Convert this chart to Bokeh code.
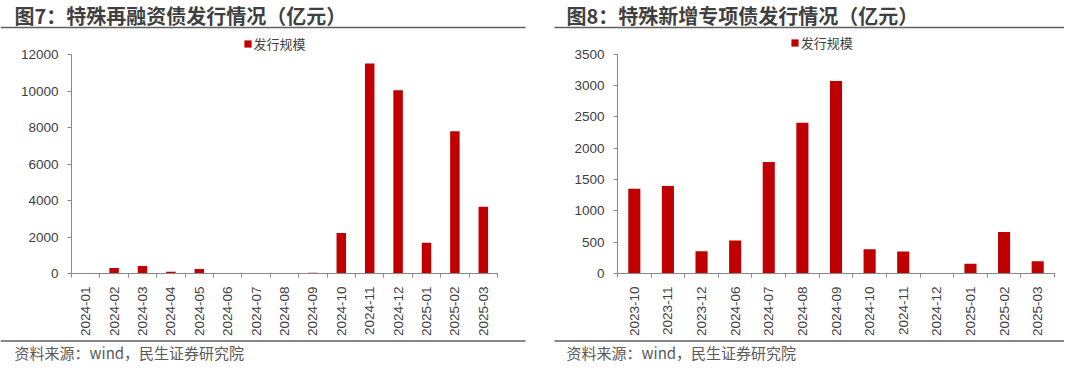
import math
import numpy as np
from bokeh.plotting import figure
from bokeh.models import (Range1d, LinearAxis, FixedTicker, SingleIntervalTicker,
                          NumeralTickFormatter, Legend, LegendItem, ColumnDataSource)
from bokeh.core.properties import value
from bokeh.layouts import row, column
from bokeh.embed import file_html
from bokeh.resources import INLINE

# ---------------- data ----------------
title7 = "图7：特殊再融资债发行情况（亿元）"
months7 = ["2024-01", "2024-02", "2024-03", "2024-04", "2024-05", "2024-06", "2024-07",
           "2024-08", "2024-09", "2024-10", "2024-11", "2024-12", "2025-01", "2025-02", "2025-03"]
issue7 = [0, 300, 410, 90, 250, 0, 0, 0, 40, 2220, 11520, 10060, 1690, 7800, 3660]

title8 = "图8：特殊新增专项债发行情况（亿元）"
months8 = ["2023-10", "2023-11", "2023-12", "2024-06", "2024-07", "2024-08", "2024-09",
           "2024-10", "2024-11", "2024-12", "2025-01", "2025-02", "2025-03"]
issue8 = [1350, 1395, 355, 525, 1780, 2405, 3070, 385, 350, 0, 155, 660, 195]

series_name = "发行规模"
source_text = "资料来源：wind，民生证券研究院"

BAR = "#C00000"
AXIS = "#898989"
TXT = "#404040"
RULE = "#5F5F5F"
CJK = "Noto Sans CJK SC"
NUM = "Liberation Sans"
HEAD_H = 30
FOOT_H = 23
CHART_H = 362 - HEAD_H - FOOT_H   # chart canvas: page y 30 .. 339


def blank(width, height):
    f = figure(width=width, height=height, x_range=Range1d(0, width),
               y_range=Range1d(height, 0), x_axis_type=None, y_axis_type=None,
               output_backend="svg", toolbar_location=None, min_border=0,
               outline_line_color=None, title=None, frame_align=False)
    f.grid.visible = False
    return f


def panel(title, cats, vals, ymax, yint, width, L, frame_w, ytop_px, frame_bottom,
          bar_w, title_x, rule_x0, rule_x1, leg_x, src_x):
    n = len(cats)
    # ---- header: title + rule
    h = blank(width, HEAD_H)
    h.text(x=[title_x], y=[14.5], text=[title], text_font=value(CJK),
           text_font_style="bold", text_font_size="20px", text_color="#3F3F3F",
           text_baseline="middle", text_align="left")
    h.segment(x0=[rule_x0], y0=[27], x1=[rule_x1], y1=[27], line_color=RULE,
              line_width=1.5)

    # ---- chart: frame starts right under the header; the axis is bounded to 0..ymax
    frame_h = frame_bottom - HEAD_H
    y_end = ymax * frame_h / (frame_bottom - ytop_px)
    p = figure(width=width, height=CHART_H, x_range=Range1d(0, n),
               y_range=Range1d(0, y_end), x_axis_type=None, y_axis_type=None,
               output_backend="svg", toolbar_location=None, title=None,
               frame_align=False, min_border_left=L,
               min_border_right=width - L - frame_w, min_border_top=0,
               min_border_bottom=CHART_H - frame_h, outline_line_color=None)
    p.grid.visible = False

    src = ColumnDataSource(dict(x=np.arange(n) + 0.5, v=vals, cat=cats))
    r = p.vbar(x="x", top="v", width=bar_w, source=src, fill_color=BAR, line_color=None)

    ya = LinearAxis(ticker=SingleIntervalTicker(interval=yint), bounds=(0, ymax),
                    formatter=NumeralTickFormatter(format="0"),
                    axis_line_color=AXIS, major_tick_line_color=AXIS,
                    major_tick_in=0, major_tick_out=4, minor_tick_line_color=None,
                    major_label_standoff=9, major_label_text_font=NUM,
                    major_label_text_font_size="13.5px", major_label_text_color=TXT)
    p.add_layout(ya, "left")

    centers = [i + 0.5 for i in range(n)]
    xa = LinearAxis(ticker=FixedTicker(ticks=centers, minor_ticks=list(range(n + 1))),
                    major_label_overrides={c: lab for c, lab in zip(centers, cats)},
                    major_label_orientation=math.pi / 2,
                    axis_line_color=AXIS, major_tick_line_color=None,
                    major_tick_in=0, major_tick_out=0,
                    minor_tick_line_color=AXIS, minor_tick_in=0, minor_tick_out=4,
                    major_label_standoff=9, major_label_text_font=NUM,
                    major_label_text_font_size="13.5px", major_label_text_color=TXT)
    p.add_layout(xa, "below")

    # legend inside the (taller) frame, above the 0..ymax axis span
    leg = Legend(items=[LegendItem(label=series_name, renderers=[r])],
                 location=(leg_x - L, frame_bottom - 60), orientation="horizontal",
                 glyph_width=9, glyph_height=9, label_height=20,
                 label_standoff=2, padding=0, margin=0, spacing=0,
                 border_line_color=None, background_fill_alpha=0,
                 label_text_font=CJK, label_text_font_size="13px",
                 label_text_color=TXT)
    p.add_layout(leg)

    # ---- footer: rule + source
    f = blank(width, FOOT_H)
    f.segment(x0=[rule_x0], y0=[1.5], x1=[rule_x1], y1=[1.5], line_color=RULE,
              line_width=1.5)
    f.text(x=[src_x], y=[13], text=[source_text], text_font=value(CJK),
           text_font_size="15px", text_color="#595959", text_baseline="middle",
           text_align="left")
    return column(h, p, f)


left = panel(title7, months7, issue7, 12000, 2000, width=540, L=71, frame_w=426,
             ytop_px=55, frame_bottom=280, bar_w=0.335, title_x=14, rule_x0=0,
             rule_x1=525, leg_x=242.5, src_x=14)
right = panel(title8, months8, issue8, 3500, 500, width=524, L=77, frame_w=437,
              ytop_px=54.3, frame_bottom=281, bar_w=0.36, title_x=26, rule_x0=14,
              rule_x1=524, leg_x=249.7, src_x=26)

layout = row(left, right)
open("out.html", "w").write(file_html(layout, INLINE))
